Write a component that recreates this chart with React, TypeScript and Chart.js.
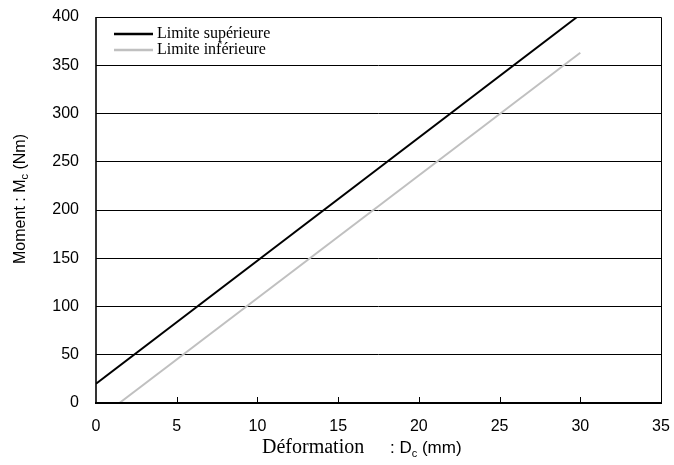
import React, { useEffect, useRef } from "react";
import { Chart, registerables } from "chart.js";

Chart.register(...registerables);

const upperX = [0, 29.8];
const upperY = [20, 400];
const lowerX = [1.45, 30];
const lowerY = [0, 363];
const seriesNames = ["Limite supérieure", "Limite inférieure"];
const seriesColors = ["#000000", "#c0c0c0"];
const xTickValues = [5, 10, 15, 20, 25, 30];

const SANS = "'Liberation Sans', Arial, sans-serif";
const SERIF = "'Liberation Serif', 'Times New Roman', serif";

const decorPlugin = {
  id: "decor",
  afterDraw(chart: any) {
    const ctx = chart.ctx;
    const a = chart.chartArea;
    const xs = chart.scales.x;
    ctx.save();
    // frame
    ctx.strokeStyle = "#000";
    ctx.lineWidth = 1;
    ctx.beginPath();
    ctx.moveTo(a.left, a.top + 0.5);
    ctx.lineTo(a.right + 0.5, a.top + 0.5);
    ctx.lineTo(a.right + 0.5, a.bottom);
    ctx.stroke();
    ctx.lineWidth = 1.6;
    ctx.beginPath();
    ctx.moveTo(a.left, a.top);
    ctx.lineTo(a.left, a.bottom);
    ctx.stroke();
    ctx.lineWidth = 2;
    ctx.beginPath();
    ctx.moveTo(a.left - 1, a.bottom);
    ctx.lineTo(a.right + 1, a.bottom);
    ctx.stroke();
    // inward ticks
    ctx.lineWidth = 1;
    for (const v of xTickValues) {
      const px = Math.round(xs.getPixelForValue(v)) + 0.5;
      ctx.beginPath();
      ctx.moveTo(px, a.bottom);
      ctx.lineTo(px, a.bottom - 6);
      ctx.stroke();
    }
    // legend
    const legendY = [a.top + 17, a.top + 33];
    for (let i = 0; i < seriesNames.length; i++) {
      ctx.strokeStyle = seriesColors[i];
      ctx.lineWidth = 2.5;
      ctx.beginPath();
      ctx.moveTo(a.left + 18, legendY[i]);
      ctx.lineTo(a.left + 57, legendY[i]);
      ctx.stroke();
      ctx.fillStyle = "#000";
      ctx.font = `16px ${SERIF}`;
      ctx.textAlign = "left";
      ctx.textBaseline = "middle";
      ctx.fillText(seriesNames[i], a.left + 61, legendY[i]);
    }
    // x title
    ctx.fillStyle = "#000";
    ctx.textBaseline = "alphabetic";
    ctx.textAlign = "left";
    const by = 453;
    let x = 262;
    ctx.font = `20px ${SERIF}`;
    ctx.fillText("Déformation", x, by);
    x = 390;
    ctx.font = `17px ${SANS}`;
    ctx.fillText(": D", x, by);
    x += ctx.measureText(": D").width;
    ctx.font = `11px ${SANS}`;
    ctx.fillText("c", x, by + 4);
    x += ctx.measureText("c").width;
    ctx.font = `17px ${SANS}`;
    ctx.fillText(" (mm)", x, by);
    // y title
    ctx.save();
    ctx.translate(25, 199);
    ctx.rotate(-Math.PI / 2);
    const p1 = "Moment : M";
    const p3 = " (Nm)";
    ctx.font = `16px ${SANS}`;
    const w1 = ctx.measureText(p1).width;
    const w3 = ctx.measureText(p3).width;
    ctx.font = `11px ${SANS}`;
    const w2 = ctx.measureText("c").width;
    let tx = -(w1 + w2 + w3) / 2;
    ctx.textBaseline = "alphabetic";
    ctx.font = `16px ${SANS}`;
    ctx.fillText(p1, tx, 0);
    tx += w1;
    ctx.font = `11px ${SANS}`;
    ctx.fillText("c", tx, 3);
    tx += w2;
    ctx.font = `16px ${SANS}`;
    ctx.fillText(p3, tx, 0);
    ctx.restore();
    ctx.restore();
  },
};

export default function App() {
  const ref = useRef<HTMLCanvasElement | null>(null);
  useEffect(() => {
    if (!ref.current) return;
    const chart = new Chart(ref.current, {
      type: "scatter",
      data: {
        datasets: [
          {
            label: seriesNames[0],
            data: upperX.map((x, i) => ({ x, y: upperY[i] })),
            showLine: true,
            borderColor: seriesColors[0],
            borderWidth: 2,
            pointRadius: 0,
          },
          {
            label: seriesNames[1],
            data: lowerX.map((x, i) => ({ x, y: lowerY[i] })),
            showLine: true,
            borderColor: seriesColors[1],
            borderWidth: 2,
            pointRadius: 0,
          },
        ],
      },
      options: {
        animation: false,
        responsive: false,
        maintainAspectRatio: false,
        layout: { padding: { top: 17, right: 13, left: 0, bottom: 0 } },
        plugins: { legend: { display: false }, tooltip: { enabled: false } },
        scales: {
          x: {
            type: "linear",
            min: 0,
            max: 35,
            ticks: { stepSize: 5, padding: 14, color: "#000", font: { family: SANS, size: 16 } },
            grid: { display: false, drawTicks: false },
            border: { display: false },
            afterFit: (s: any) => {
              s.height = 62;
              s.paddingLeft = 0;
              s.paddingRight = 0;
            },
          },
          y: {
            min: 0,
            max: 400,
            ticks: { stepSize: 50, padding: 17, color: "#000", font: { family: SANS, size: 16 } },
            grid: { color: "#000", lineWidth: 1, drawTicks: false },
            border: { display: false },
            afterFit: (s: any) => {
              s.width = 96;
              s.paddingTop = 0;
              s.paddingBottom = 0;
            },
          },
        },
      },
      plugins: [decorPlugin],
    } as any);
    return () => chart.destroy();
  }, []);
  return (
    <div style={{ position: "fixed", left: 0, top: 0, width: 674, height: 465 }}>
      <canvas ref={ref} width={674} height={465} style={{ display: "block" }} />
    </div>
  );
}
